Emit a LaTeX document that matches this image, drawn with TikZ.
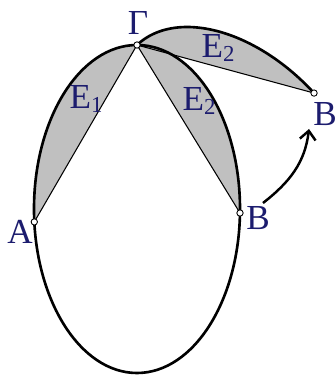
\documentclass[tikz,border=0pt]{standalone}
\usepackage{fontspec}
\setmainfont{Liberation Serif}
\usetikzlibrary{arrows.meta,calc}
\definecolor{lab}{RGB}{28,28,110}
\definecolor{seg}{RGB}{192,192,192}
\tikzset{
  curve/.style={line width=1.5pt},
  chord/.style={line width=0.6pt},
  segfill/.style={fill=seg},
  pt/.style={circle,draw,fill=white,line width=0.5pt,inner sep=0pt,minimum size=3.6pt},
  lbl/.style={text=lab,font=\fontsize{20}{24}\selectfont,inner sep=0pt},
  turn/.style={line width=1.4pt,-{Straight Barb[length=5pt,width=9pt]}}
}
\newcommand{\subd}[1]{\raisebox{-0.12em}{\fontsize{13}{13}\selectfont #1}}
\begin{document}
\begin{tikzpicture}[x=0.02cm,y=0.02cm]
\useasboundingbox (0,0) rectangle (335,376);
\coordinate (C) at (137,167);
\coordinate (G) at (137,331);
\coordinate (A) at (34.3,154.1);
\coordinate (B) at (240.0,163.0);
% segment A-Gamma
\fill[segfill] (A) arc[start angle=184.5,end angle=90,x radius=103,y radius=164] -- cycle;
% segment Gamma-B
\fill[segfill] (G) arc[start angle=90,end angle=-1.4,x radius=103,y radius=164] -- cycle;
% rotated segment
\begin{scope}[shift={(G)},rotate=43.3,scale=0.931]
  \coordinate (O) at (0,0);
  \fill[segfill] (O) arc[start angle=90,end angle=-1.4,x radius=103,y radius=164] -- cycle;
  \draw[chord] (O) -- (103,-168) coordinate (B2);
  \draw[curve] (O) arc[start angle=90,end angle=-1.4,x radius=103,y radius=164];
\end{scope}
% chords
\draw[chord] (A) -- (G) -- (B);
% ellipse
\draw[curve] (C) ellipse[x radius=103,y radius=164];
% points
\node[pt] (pA) at (A) {};
\node[pt] (pB) at (B) {};
\node[pt] (pG) at (G) {};
\node[pt] (pB2) at (B2) {};
% labels
\node[lbl] (lA) at (20,144) {A};
\node[lbl] (lB) at (258,158) {B};
\node[lbl] (lG) at (138,353) {Γ};
\node[lbl] (lB2) at (325,262) {B};
\node[lbl] (lE1) at (86,277) {E\subd{1}};
\node[lbl] (lE2) at (199,275) {E\subd{2}};
\node[lbl] (lE3) at (218,328) {E\subd{2}};
% arrow
\coordinate (as) at (263,173);
\coordinate (ae) at (309,247);
\draw[turn] (as) to[out=38,in=-97] (ae);
\end{tikzpicture}
\end{document}
